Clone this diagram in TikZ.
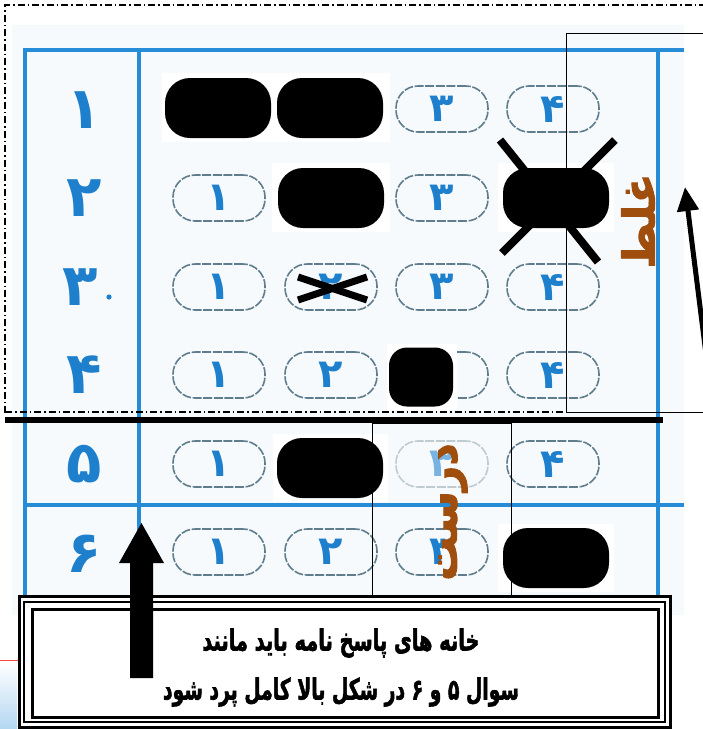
\documentclass[tikz,border=0pt]{standalone}
\usepackage{fontspec}
\usepackage{graphicx}
\TeXXeTstate=1
\newfontfamily\fa[Script=Arabic]{DejaVu Sans}
\newfontfamily\faheavy[Script=Arabic, BoldFeatures={FakeBold=2.2}]{DejaVu Sans}
\usetikzlibrary{arrows.meta}
\definecolor{sheetblue}{RGB}{38,140,215}
\definecolor{digitblue}{RGB}{30,128,205}
\definecolor{bubgrey}{RGB}{95,125,140}
\definecolor{brownlbl}{RGB}{160,78,14}
\definecolor{scanbg}{RGB}{246,250,253}
\newcommand\bubdigit[1]{{\fa\bfseries\fontsize{40}{40}\selectfont #1}}
\newcommand\rowdigit[1]{{\fa\bfseries\fontsize{58}{58}\selectfont #1}}
\begin{document}
\begin{tikzpicture}[x=1pt,y=-1pt,
  bluerule/.style={draw=sheetblue, line width=4.5pt},
  bubble/.style={draw=bubgrey, line width=1.6pt, dash pattern=on 9pt off 1.6pt, rounded corners=22pt,
     minimum width=92pt, minimum height=46pt, inner sep=0pt, text=digitblue},
  filledbub/.style={fill=black, rounded corners=25pt, minimum width=106pt, minimum height=60pt, inner sep=0pt},
  rowlabel/.style={text=digitblue, inner sep=0pt},
  xline/.style={line width=8pt},
  dashdot/.style={line width=1.2pt, dash pattern=on 7pt off 3pt on 1.5pt off 3pt},
  thinframe/.style={draw=black, line width=1pt},
  brownword/.style={text=brownlbl, rotate=90, inner sep=0pt, font=\faheavy\bfseries\fontsize{44}{44}\selectfont},
  boxtext/.style={font=\faheavy\bfseries\fontsize{20}{20}\selectfont, inner sep=0pt}
]
\useasboundingbox (0,0) rectangle (703,729);
\clip (0,0) rectangle (703,729);
\fill[white] (0,0) rectangle (703,729);
% scanned sheet background
\fill[scanbg] (12,25) rectangle (684,615);
% blue rules
\draw[bluerule] (23,50) -- (684,50);
\draw[bluerule] (25,48) -- (25,615);
\draw[bluerule] (139,48) -- (139,615);
\draw[bluerule] (658,48) -- (658,615);
\draw[bluerule] (25,505) -- (684,505);
% row labels
\node[rowlabel] (r1) at (84,110) {\rowdigit{۱}};
\node[rowlabel] (r2) at (84,198) {\rowdigit{۲}};
\node[rowlabel] (r3) at (80,287) {\rowdigit{۳}};
\fill[digitblue] (109,297) circle (2.6pt);
\node[rowlabel] (r4) at (84,375) {\rowdigit{۴}};
\node[rowlabel] (r5) at (84,464) {\rowdigit{۵}};
\node[rowlabel] (r6) at (84,554) {\rowdigit{۶}};
% empty bubbles
\node[bubble] (b13) at (442,109) {\bubdigit{۳}};
\node[bubble] (b14) at (553,109) {\bubdigit{۴}};
\node[bubble] (b21) at (219,198) {\bubdigit{۱}};
\node[bubble] (b23) at (442,198) {\bubdigit{۳}};
\node[bubble] (b31) at (219,287) {\bubdigit{۱}};
\node[bubble] (b32) at (331,287) {\bubdigit{۲}};
\node[bubble] (b33) at (442,287) {\bubdigit{۳}};
\node[bubble] (b34) at (553,287) {\bubdigit{۴}};
\node[bubble] (b41) at (219,375) {\bubdigit{۱}};
\node[bubble] (b42) at (331,375) {\bubdigit{۲}};
\node[bubble] (b43) at (442,375) {};
\node[bubble] (b44) at (553,375) {\bubdigit{۴}};
\node[bubble] (b51) at (219,464) {\bubdigit{۱}};
\node[bubble, draw=bubgrey!40, text=digitblue!60] (b53) at (442,464) {\bubdigit{۳}};
\node[bubble] (b54) at (553,464) {\bubdigit{۴}};
\node[bubble] (b61) at (219,552) {\bubdigit{۱}};
\node[bubble] (b62) at (331,552) {\bubdigit{۲}};
\node[bubble] (b63) at (442,552) {\bubdigit{۳}};
% white patches behind filled marks
\fill[white] (162,73) rectangle (390,142);
\fill[white] (272,163) rectangle (390,232);
\fill[white] (498,163) rectangle (614,232);
\fill[white] (387,344) rectangle (457,410);
\fill[white] (273,434) rectangle (388,502);
\fill[white] (498,524) rectangle (614,592);
% filled marks
\node[filledbub] (f11) at (218,108) {};
\node[filledbub] (f12) at (330,108) {};
\node[filledbub] (f22) at (331,198) {};
\node[filledbub] (f24) at (556,198) {};
\node[filledbub, minimum width=64pt, minimum height=59pt, rounded corners=18pt] (f43) at (421,377) {};
\node[filledbub] (f52) at (330,468) {};
\node[filledbub] (f64) at (556,558) {};
% crosses
\coordinate (xa1) at (500,140); \coordinate (xa2) at (598,262);
\coordinate (xb1) at (615,140); \coordinate (xb2) at (502,253);
\draw[xline] (xa1) -- (xa2);
\draw[xline] (xb1) -- (xb2);
\coordinate (xc1) at (298,277); \coordinate (xc2) at (367,300);
\coordinate (xd1) at (298,300); \coordinate (xd2) at (367,277);
\draw[line width=7pt] (xc1) -- (xc2);
\draw[line width=7pt] (xd1) -- (xd2);
% dash-dot frame
\draw[dashdot] (5,413) -- (5,5) -- (703,5);
\draw[dashdot] (5,412) -- (566,412);
% thin frame on the right
\draw[thinframe] (710,33) -- (566,33) -- (566,412) -- (710,412);
% thick separator
\draw[line width=6pt] (5,420) -- (663,420);
% frame around correct mark
\draw[thinframe] (372,423) -- (372,606);
\draw[thinframe] (511,423) -- (511,606);
\draw[thinframe] (372,423) -- (511,423);
% brown words
\node[brownword] (wrong) at (638,221) {\beginR غلط\endR};
\node[brownword] (right) at (453,512) {\beginR درست\endR};
% right arrow
\coordinate (ra0) at (713,410);
\coordinate (ra1) at (685,187);
\draw[line width=5pt, -{Triangle[length=24pt,width=21pt]}] (ra0) -- (ra1);
% bottom-left bits
\shade[top color=white, bottom color=sheetblue!35] (0,662) rectangle (17,729);
\draw[red!75, line width=0.8pt] (0,660) -- (22,660);
% instruction box
\fill[white] (19,596) rectangle (670,727);
\draw[line width=3pt] (19,596) rectangle (670,727);
\draw[line width=1.2pt] (24,602) rectangle (665,722);
\draw[line width=3pt] (32,609) rectangle (658,717);
\node[boxtext] (t1) at (341,643) {\scalebox{0.97}[1.45]{\beginR خانه های پاسخ نامه باید مانند\endR}};
\node[boxtext] (t2) at (341,692) {\scalebox{0.94}[1.45]{\beginR سوال ۵ و ۶ در شکل بالا کامل پرد شود\endR}};
% big left arrow
\fill (130,678) -- (130,563) -- (119,563) -- (141.5,523) -- (164,563) -- (153,563) -- (153,678) -- cycle;
\end{tikzpicture}
\end{document}
